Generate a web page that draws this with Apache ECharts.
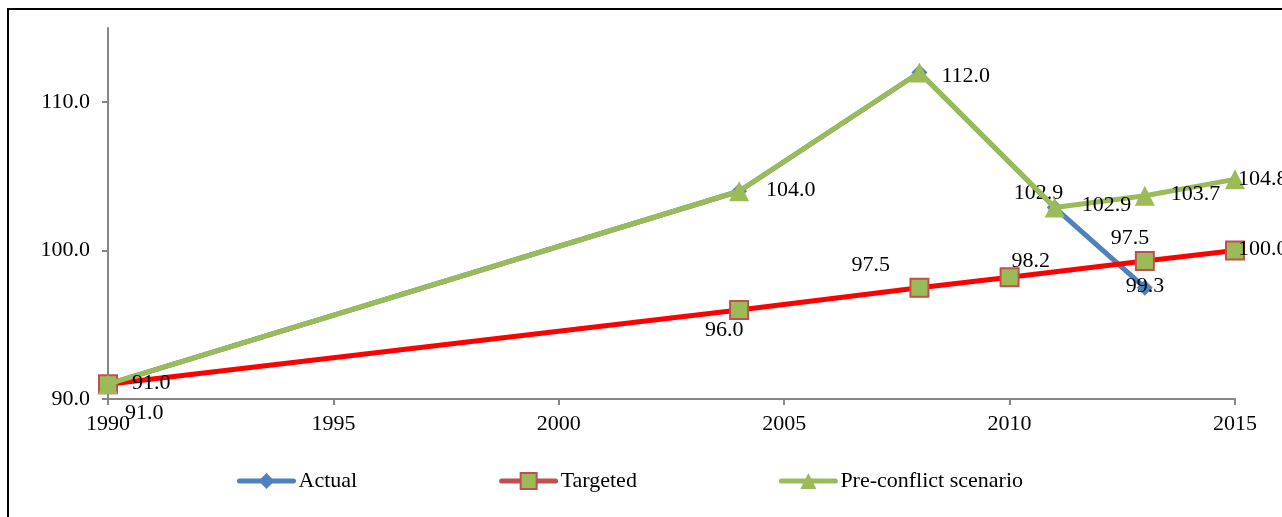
<!DOCTYPE html>
<html><head><meta charset="utf-8">
<script src="https://cdn.jsdelivr.net/npm/echarts@6/dist/echarts.min.js"></script>
<style>html,body{margin:0;padding:0;background:#fff}#c{width:1282px;height:517px}</style>
</head><body><div id="c"></div>
<script>
const seriesNames = ['Actual', 'Targeted', 'Pre-conflict scenario'];
const actualYears = [1990, 2004, 2008, 2011, 2013];
const actualValues = [91.0, 104.0, 112.0, 102.9, 97.5];
const targetedYears = [1990, 2004, 2008, 2010, 2013, 2015];
const targetedValues = [91.0, 96.0, 97.5, 98.2, 99.3, 100.0];
const preYears = [1990, 2004, 2008, 2011, 2013, 2015];
const preValues = [91.0, 104.0, 112.0, 102.9, 103.7, 104.8];
const yTicks = [90, 100, 110];

const FONT = '"Liberation Serif", "Times New Roman", serif';
const FS = 22;
const lbl = (pos, show = true) => ({ show, position: pos, color: '#000', fontFamily: FONT, fontSize: FS, formatter: p => p.value[1].toFixed(1) });

const actualLabels = [lbl('right', false), lbl('right', false), lbl('right', false), lbl([-33, -17]), lbl([-26, -52])];
const targetedLabels = [lbl([27, 28]), lbl([-24, 19]), lbl([-58, -23]), lbl([12, -17]), lbl([-9, 24]), lbl([13, -2])];
const preLabels = [lbl([34, -2]), lbl([37, -2]), lbl([32, 3]), lbl([37, -3]), lbl([36, -2]), lbl([13, -1])];

function build(years, vals, labels) {
  return years.map((y, i) => ({ value: [y, vals[i]], label: labels[i] }));
}

const chart = echarts.init(document.getElementById('c'), null, { renderer: 'canvas' });
chart.setOption({
  animation: false,
  backgroundColor: '#fff',
  graphic: [{ type: 'rect', shape: { x: 8, y: 9, width: 1400, height: 600 }, style: { fill: 'none', stroke: '#000', lineWidth: 2 }, z: 100 }],
  grid: { left: 108, right: 47, top: 28, bottom: 118 },
  legend: {
    top: 465, left: 232, itemGap: 142, itemWidth: 54, itemHeight: 20,
    textStyle: { fontFamily: FONT, fontSize: FS, color: '#000' },
    data: [
      { name: seriesNames[0], lineStyle: { width: 5, cap: 'round' } },
      { name: seriesNames[1], lineStyle: { color: '#C0504D', width: 5, cap: 'round' } },
      { name: seriesNames[2], lineStyle: { width: 5, cap: 'round' } }
    ]
  },
  xAxis: {
    type: 'value', min: 1990, max: 2015, interval: 5,
    axisLine: { lineStyle: { color: '#868686', width: 2 } },
    axisTick: { show: true, length: 6, lineStyle: { color: '#868686', width: 2 } },
    splitLine: { show: false },
    axisLabel: { color: '#000', fontFamily: FONT, fontSize: FS, margin: 14, formatter: v => String(v) }
  },
  yAxis: {
    type: 'value', min: 90, max: 115, interval: 10,
    axisLine: { show: true, lineStyle: { color: '#868686', width: 2 } },
    axisTick: { show: true, length: 6, customValues: yTicks, lineStyle: { color: '#868686', width: 2 } },
    splitLine: { show: false },
    axisLabel: { color: '#000', fontFamily: FONT, fontSize: FS, margin: 18, customValues: yTicks, formatter: v => v.toFixed(1) }
  },
  series: [
    { name: seriesNames[0], type: 'line', data: build(actualYears, actualValues, actualLabels),
      symbol: 'diamond', symbolSize: 16, lineStyle: { color: '#4F81BD', width: 5 }, itemStyle: { color: '#4F81BD' }, z: 2 },
    { name: seriesNames[1], type: 'line', data: build(targetedYears, targetedValues, targetedLabels),
      symbol: 'rect', symbolSize: 18, lineStyle: { color: '#FF0000', width: 5 }, itemStyle: { color: '#9BBB59', borderColor: '#C0504D', borderWidth: 2 }, z: 3 },
    { name: seriesNames[2], type: 'line', data: build(preYears, preValues, preLabels),
      symbol: 'triangle', symbolSize: 20, lineStyle: { color: '#9BBB59', width: 5 }, itemStyle: { color: '#9BBB59' }, z: 4 }
  ]
});
</script></body></html>
